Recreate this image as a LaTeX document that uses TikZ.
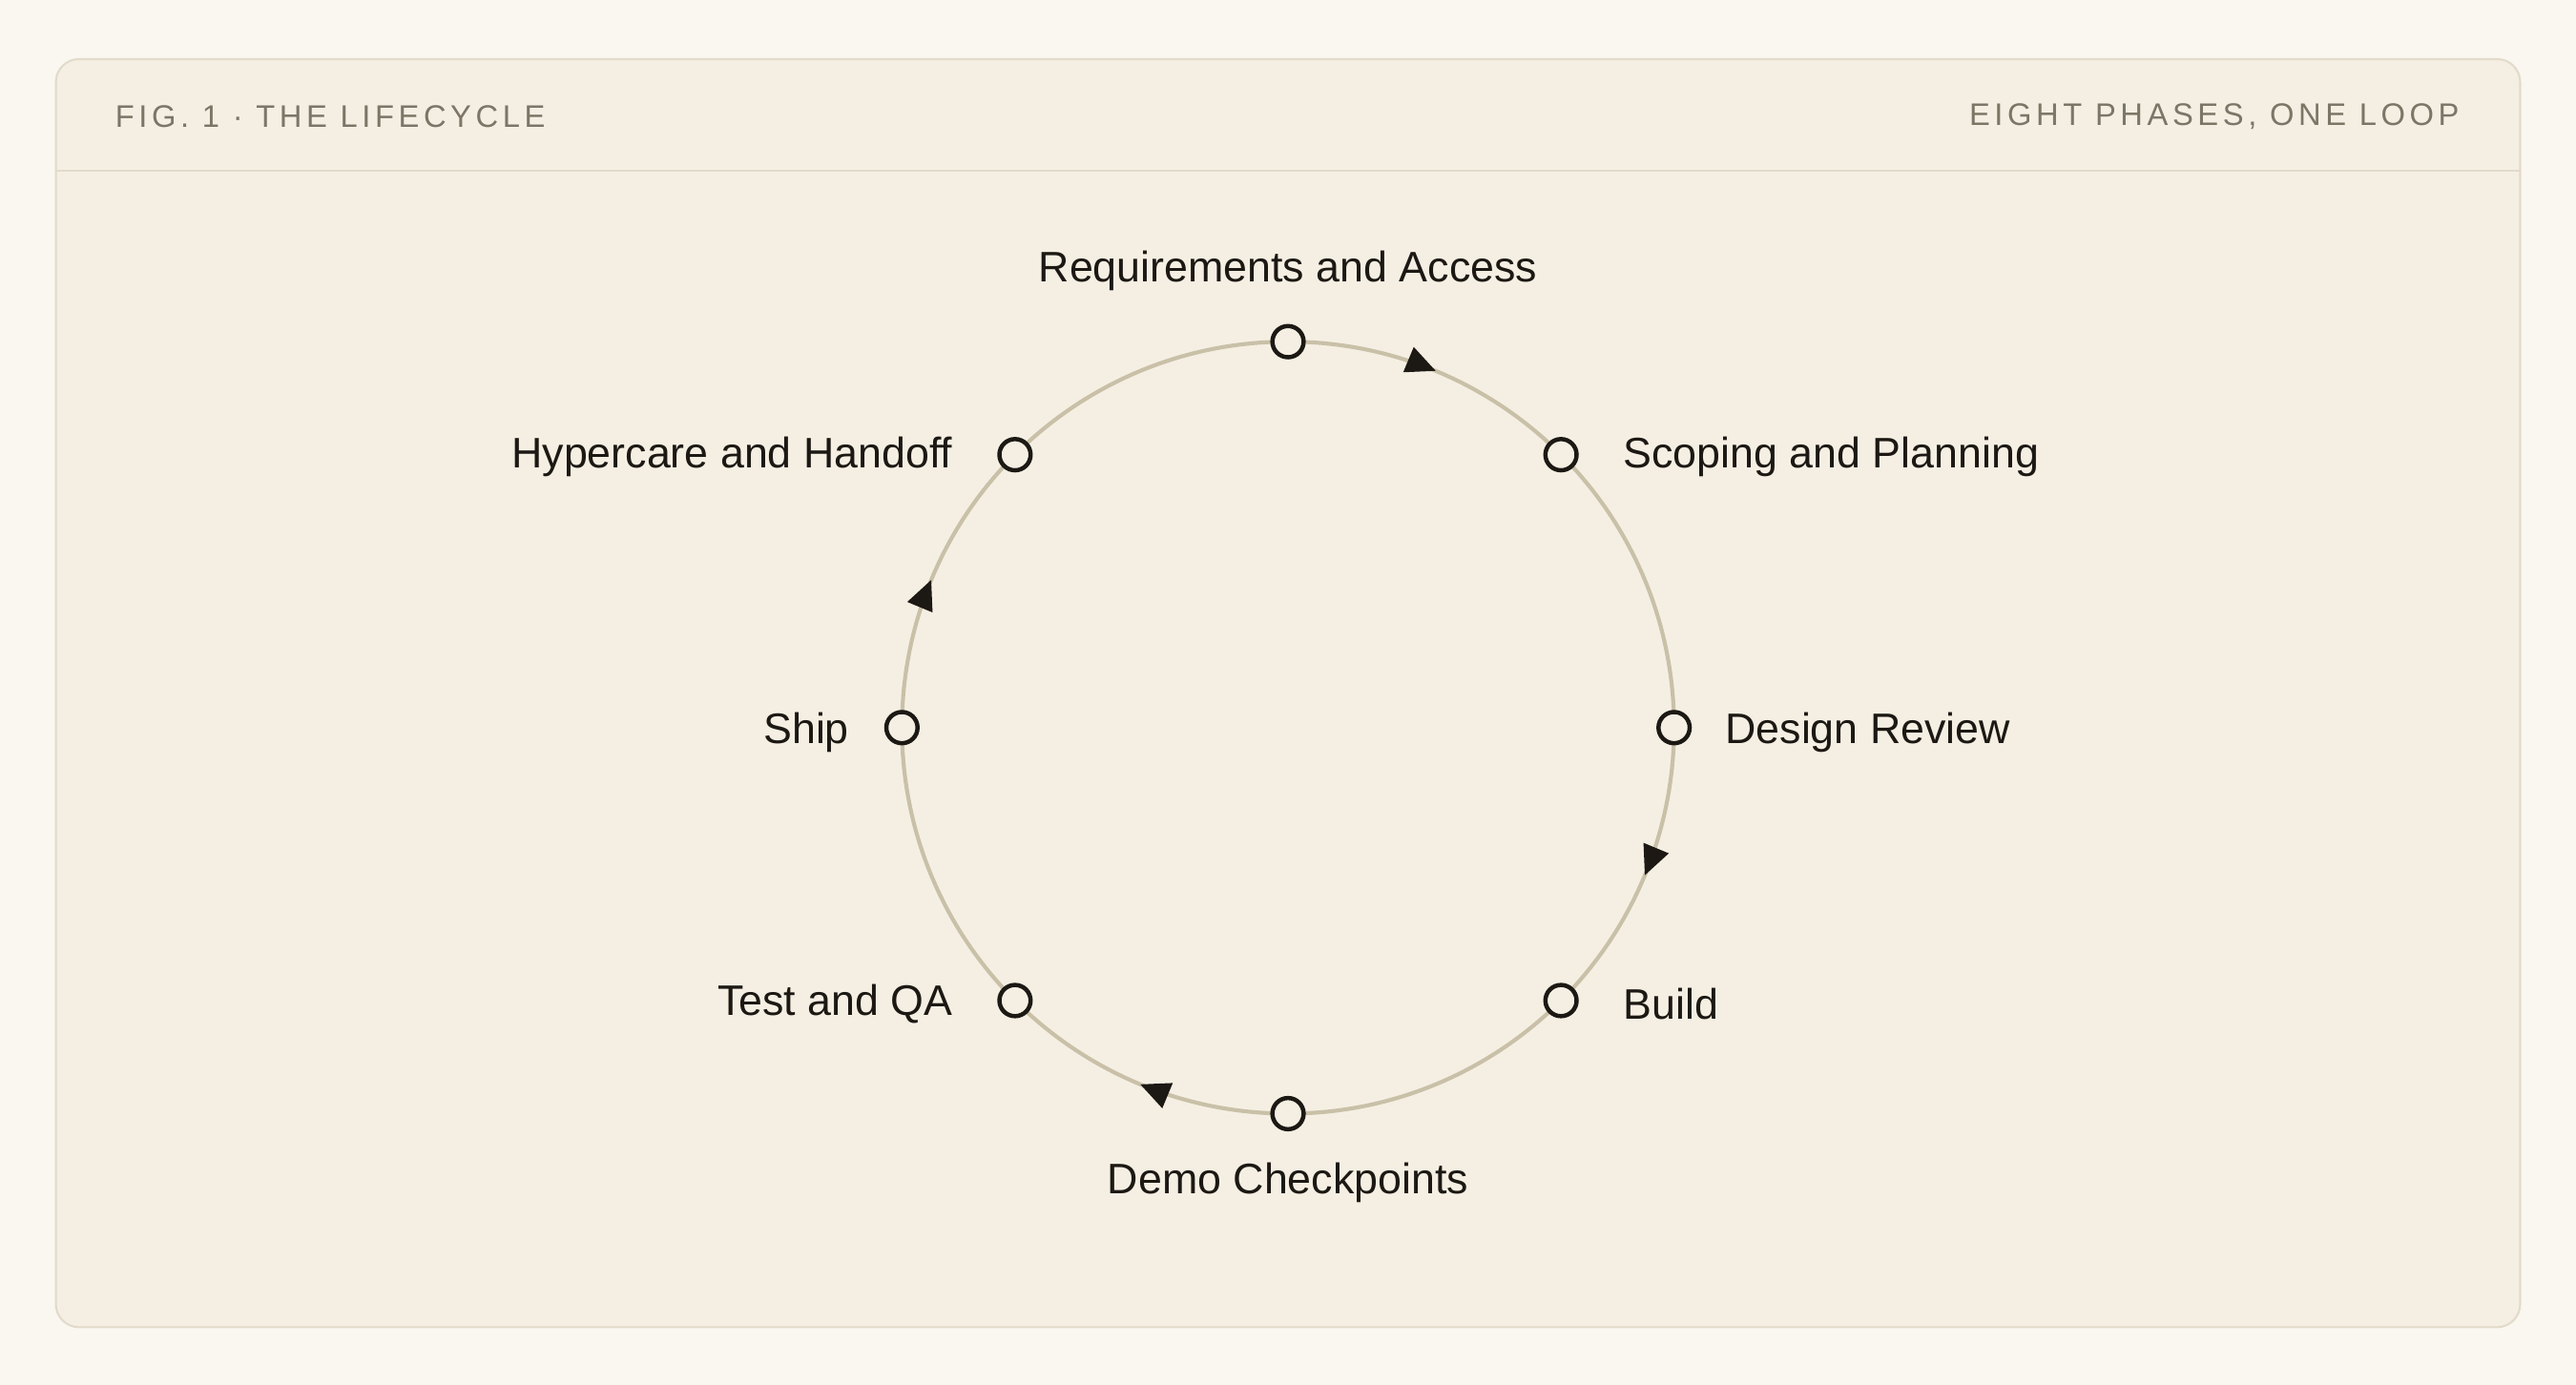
\documentclass[tikz,border=0pt]{standalone}
\usepackage{fontspec}
\setmainfont{Liberation Sans}
\usetikzlibrary{decorations.markings,arrows.meta,calc}
\definecolor{bg}{HTML}{FAF7F0}
\definecolor{panel}{HTML}{F5EFE3}
\definecolor{edge}{HTML}{E2DACA}
\definecolor{ring}{HTML}{C9C0A8}
\definecolor{ink}{HTML}{1C1813}
\definecolor{hdr}{HTML}{7D7566}
\begin{document}
\begin{tikzpicture}[x=1pt,y=-1pt,
  dot/.style={circle,draw=ink,line width=2.6pt,fill=panel,minimum size=19pt,inner sep=0pt},
  lab/.style={font=\fontsize{26}{30}\selectfont,text=ink,inner sep=0pt},
  head/.style={font=\fontsize{19}{22}\selectfont\addfontfeatures{LetterSpace=14},text=hdr,inner sep=0pt}]
\fill[bg] (0,0) rectangle (1568,843);
\useasboundingbox (0,0) rectangle (1568,843);
\draw[edge,fill=panel,line width=1.2pt,rounded corners=14pt] (34,36) rectangle (1534,808);
\draw[edge,line width=1.2pt] (34,104) -- (1534,104);
\node[head,anchor=west] (h1) at (70,71) {FIG. 1 · THE LIFECYCLE};
\node[head,anchor=east] (h2) at (1497,71) {EIGHT PHASES, ONE LOOP};
\coordinate (c) at (784,443);
\draw[ring,line width=2.4pt,postaction={decorate},decoration={markings,
  mark=at position 0.0625 with {\arrow[ink]{Triangle[length=18pt,width=16pt]}},
  mark=at position 0.3125 with {\arrow[ink]{Triangle[length=18pt,width=16pt]}},
  mark=at position 0.5625 with {\arrow[ink]{Triangle[length=18pt,width=16pt]}},
  mark=at position 0.8125 with {\arrow[ink]{Triangle[length=18pt,width=16pt]}}}]
  (784,208) arc[start angle=90,end angle=-270,x radius=235,y radius=-235];
\foreach \n/\a in {n1/90,n2/45,n3/0,n4/-45,n5/-90,n6/-135,n7/180,n8/135}
  \node[dot] (\n) at ($(c)+(\a:235 and -235)$) {};
\node[lab,anchor=south] (l1) at (784,177) {Requirements and Access};
\node[lab,anchor=west] (l2) at (988,278) {Scoping and Planning};
\node[lab,anchor=west] (l3) at (1050,446) {Design Review};
\node[lab,anchor=west] (l4) at (988,611) {Build};
\node[lab,anchor=north] (l5) at (784,708) {Demo Checkpoints};
\node[lab,anchor=east] (l6) at (580,611) {Test and QA};
\node[lab,anchor=east] (l7) at (517,446) {Ship};
\node[lab,anchor=east] (l8) at (580,278) {Hypercare and Handoff};
\end{tikzpicture}
\end{document}
